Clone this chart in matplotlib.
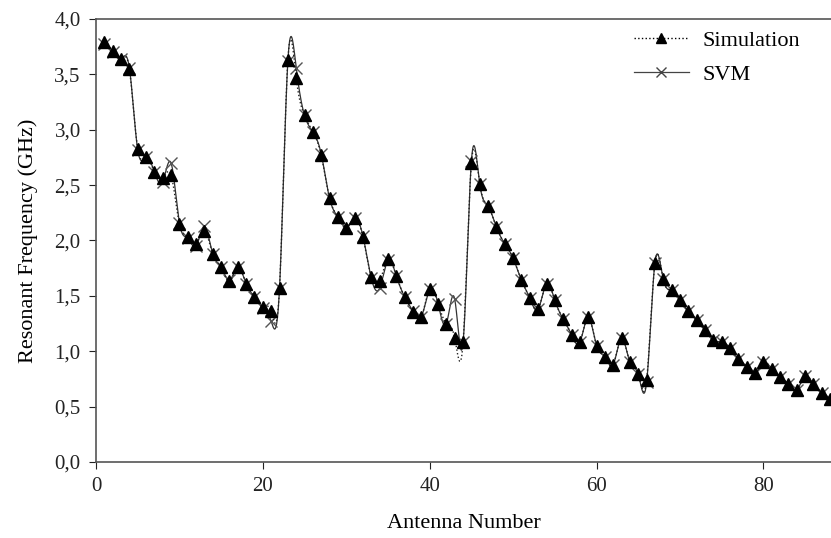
import numpy as np
import matplotlib
matplotlib.use('Agg')
import matplotlib.pyplot as plt
from matplotlib.ticker import FuncFormatter

antenna = list(range(1, 89))

simulation = [3.79, 3.71, 3.64, 3.55, 2.83, 2.75, 2.62, 2.56, 2.59, 2.15,
              2.03, 1.97, 2.09, 1.88, 1.76, 1.63, 1.76, 1.61, 1.49, 1.40,
              1.36, 1.57, 3.63, 3.47, 3.13, 2.98, 2.77, 2.38, 2.21, 2.11,
              2.20, 2.03, 1.67, 1.63, 1.83, 1.68, 1.49, 1.35, 1.31, 1.56,
              1.43, 1.25, 1.12, 1.08, 2.70, 2.51, 2.31, 2.12, 1.97, 1.84,
              1.64, 1.48, 1.38, 1.61, 1.46, 1.29, 1.15, 1.08, 1.31, 1.05,
              0.95, 0.88, 1.12, 0.90, 0.79, 0.74, 1.80, 1.65, 1.55, 1.46,
              1.36, 1.28, 1.19, 1.10, 1.08, 1.03, 0.93, 0.86, 0.80, 0.90,
              0.84, 0.77, 0.70, 0.65, 0.78, 0.70, 0.62, 0.57]

svm = [3.77, 3.70, 3.64, 3.56, 2.82, 2.75, 2.62, 2.53, 2.70, 2.16,
       2.02, 1.95, 2.13, 1.88, 1.76, 1.64, 1.76, 1.61, 1.49, 1.39,
       1.27, 1.57, 3.62, 3.56, 3.13, 2.98, 2.78, 2.38, 2.21, 2.12,
       2.20, 2.04, 1.66, 1.57, 1.82, 1.68, 1.49, 1.36, 1.31, 1.56,
       1.43, 1.25, 1.47, 1.08, 2.72, 2.51, 2.31, 2.12, 1.97, 1.84,
       1.64, 1.48, 1.38, 1.61, 1.46, 1.29, 1.15, 1.08, 1.31, 1.05,
       0.95, 0.88, 1.12, 0.90, 0.79, 0.72, 1.80, 1.65, 1.55, 1.46,
       1.36, 1.28, 1.19, 1.10, 1.08, 1.03, 0.93, 0.86, 0.80, 0.90,
       0.84, 0.77, 0.70, 0.65, 0.78, 0.70, 0.62, 0.57]


def spline(x, y, steps=20):
    # natural cubic spline, like the smoothed curves of the original plot
    x = np.asarray(x, float)
    y = np.asarray(y, float)
    n = len(x)
    h = np.diff(x)
    A = np.zeros((n, n))
    b = np.zeros(n)
    A[0, 0] = A[-1, -1] = 1
    for i in range(1, n - 1):
        A[i, i - 1] = h[i - 1]
        A[i, i] = 2 * (h[i - 1] + h[i])
        A[i, i + 1] = h[i]
        b[i] = 3 * ((y[i + 1] - y[i]) / h[i] - (y[i] - y[i - 1]) / h[i - 1])
    c = np.linalg.solve(A, b)
    xs, ys = [], []
    for i in range(n - 1):
        bi = (y[i + 1] - y[i]) / h[i] - h[i] * (2 * c[i] + c[i + 1]) / 3
        di = (c[i + 1] - c[i]) / (3 * h[i])
        t = np.linspace(0, h[i], steps, endpoint=False)
        xs.append(x[i] + t)
        ys.append(y[i] + bi * t + c[i] * t ** 2 + di * t ** 3)
    xs.append([x[-1]])
    ys.append([y[-1]])
    return np.concatenate(xs), np.concatenate(ys)


plt.rcParams['font.family'] = ['Liberation Serif', 'DejaVu Serif']

fig = plt.figure(figsize=(8.31, 5.38), dpi=100)
ax = fig.add_axes([0.1155, 0.1413, 0.8845, 0.8234])

sx, sy = spline(antenna, svm)
ax.plot(sx, sy, '-', color='#333333', lw=0.9)
ax.plot(antenna, svm, 'x', color='#555555', ms=8, mew=1.0)

tx, ty = spline(antenna, simulation)
ax.plot(tx, ty, ':', color='#222222', lw=1.0)
ax.plot(antenna, simulation, '^', color='black', ms=8.5)

# legend handles
ax.plot([], [], ':^', color='black', ms=7, lw=1.0, label='Simulation')
ax.plot([], [], '-x', color='#444444', ms=7, mew=1.0, lw=0.9, label='SVM')
handles, labels = ax.get_legend_handles_labels()
ax.legend(handles, labels, loc='upper right', frameon=False, fontsize=16,
          handlelength=2.5, handletextpad=0.6, numpoints=1, labelspacing=0.6,
          borderpad=0, borderaxespad=0, bbox_to_anchor=(0.958, 0.975))

ax.set_xlim(0, 88.1)
ax.set_ylim(0, 4.0)
ax.set_xticks([0, 20, 40, 60, 80])
ax.set_yticks(np.arange(0, 4.01, 0.5))
ax.yaxis.set_major_formatter(FuncFormatter(lambda v, p: f'{v:.1f}'.replace('.', ',')))
ax.tick_params(direction='out', length=5, labelsize=15, colors='#222222', pad=6)
ax.set_xlabel('Antenna Number', fontsize=16, labelpad=13)
ax.set_ylabel('Resonant Frequency (GHz)', fontsize=16, labelpad=12)
ax.spines['right'].set_visible(False)
for s in ax.spines.values():
    s.set_color('#555555')
    s.set_linewidth(1.2)

fig.savefig('out.png', dpi=100)
